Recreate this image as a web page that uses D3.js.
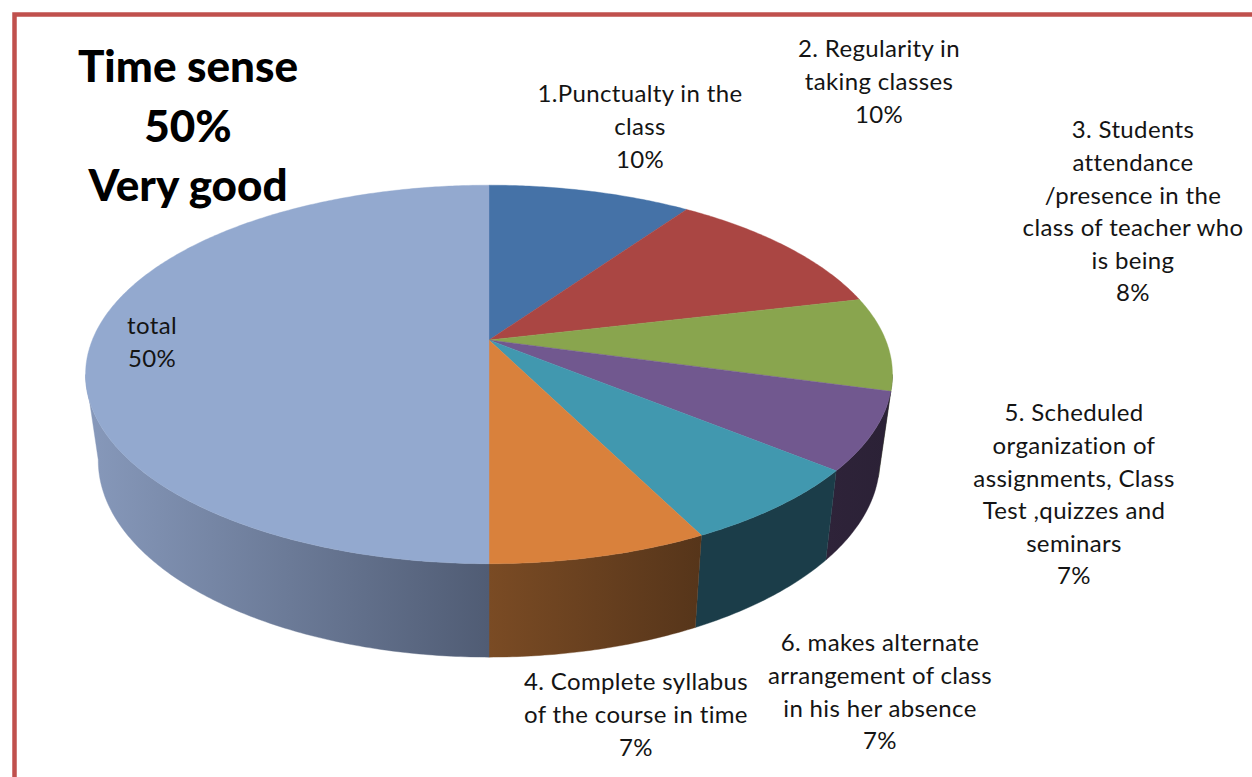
<!DOCTYPE html>
<html><head><meta charset="utf-8">
<script src="https://cdn.jsdelivr.net/npm/d3@7/dist/d3.min.js"></script>
<style>html,body{margin:0;padding:0;background:#fff;overflow:hidden}svg{display:block}text{font-variant-ligatures:none}</style>
</head><body><svg id="c" width="1252" height="777"></svg>
<script>
// Data, clockwise from 12 o'clock
const names = [
  ["1.Punctualty in the","class"],
  ["2. Regularity in","taking classes"],
  ["3. Students","attendance","/presence in the","class of teacher who","is being"],
  ["5. Scheduled","organization of","assignments, Class","Test ,quizzes and","seminars"],
  ["6. makes alternate","arrangement of class","in his her absence"],
  ["4. Complete syllabus","of the course in time"],
  ["total"]
];
const values = [9.7, 11.6, 8.0, 6.6, 6.7, 7.4, 50];
const valueLabels = ["10%","10%","8%","7%","7%","7%","50%"];
const titleLines = ["Time sense","50%","Very good"];

// Styles and layout
const topColors = ["#4572A7","#AA4643","#89A54E","#71588F","#4198AF","#D9813C","#93A9CF"];
const wallStops = [["#2b4566","#2b4566"],["#662a29","#662a29"],["#52632f","#3f4c24"],["#2e2339","#2b2136"],
                   ["#1b3d49","#1b3d49"],["#7a4b24","#56351a"],["#8799bb","#505c74"]];
const labelX = [640, 879, 1133, 1074, 880, 636, 152];
const labelTop = [94, 49, 130, 413, 643, 682, 326];
const lineH = 32.6;

const topFace = {cx:489, cy:340, R:396.7, S:183, k:0.182};
const botFace = {cx:489, cy:424, R:384, S:190, k:0.185};
function project(f, a){
  const w = 1 + f.k*Math.cos(a);
  return [f.cx + f.R*Math.sin(a)/w, f.cy - f.S*Math.cos(a)/w];
}
const svg = d3.select("#c");
const defs = svg.append("defs");
const arcs = d3.pie().sort(null).value(d=>d)(values);
const line = d3.line();
const samples = (a0,a1)=>{const n=Math.max(2,Math.ceil((a1-a0)/0.01));return d3.range(n+1).map(i=>a0+(a1-a0)*i/n);};

// frame
svg.append("path").attr("d","M14.5,777V14.5H1252").attr("fill","none").attr("stroke","#C0504D").attr("stroke-width",4.5);

// walls: visible between the two silhouette angles of the projected disc
const visLo = Math.acos(-topFace.k), visHi = 2*Math.PI - visLo;
arcs.forEach((d,i)=>{
  const a0=Math.max(d.startAngle,visLo), a1=Math.min(d.endAngle,visHi);
  if(a1<=a0) return;
  const s=samples(a0,a1);
  const pts=s.map(a=>project(topFace,a)).concat(s.slice().reverse().map(a=>project(botFace,a)));
  const xs=d3.extent(pts,p=>p[0]);
  const g=defs.append("linearGradient").attr("id","w"+i).attr("gradientUnits","userSpaceOnUse")
    .attr("x1",xs[1]).attr("x2",xs[0]).attr("y1",0).attr("y2",0);
  g.append("stop").attr("offset",0).attr("stop-color",wallStops[i][1]);
  g.append("stop").attr("offset",1).attr("stop-color",wallStops[i][0]);
  svg.append("path").attr("d",line(pts)+"Z").attr("fill",`url(#w${i})`).attr("stroke",`url(#w${i})`).attr("stroke-width",0.4);
});

// top face
arcs.forEach((d,i)=>{
  const pts=[[topFace.cx,topFace.cy]].concat(samples(d.startAngle,d.endAngle).map(a=>project(topFace,a)));
  svg.append("path").attr("d",line(pts)+"Z").attr("fill",topColors[i]).attr("stroke",topColors[i]).attr("stroke-width",0.4);
});

// title
svg.append("g").selectAll("text").data(titleLines).join("text")
  .attr("x",188).attr("y",(d,i)=>82+i*59.5).attr("text-anchor","middle")
  .attr("font-family","Lato, Carlito, sans-serif").attr("font-weight",900).attr("font-size",44).attr("fill","#000")
  .text(d=>d);

// labels
names.forEach((ls,i)=>{
  const all=ls.concat([valueLabels[i]]);
  svg.append("g").selectAll("text").data(all).join("text")
    .attr("x",labelX[i]).attr("y",(d,j)=>labelTop[i]+j*lineH).attr("dy","0.35em").attr("text-anchor","middle")
    .attr("font-family","Lato, Carlito, sans-serif").attr("font-size",24).attr("letter-spacing",0.35).attr("fill","#141414")
    .text(d=>d);
});
</script></body></html>
